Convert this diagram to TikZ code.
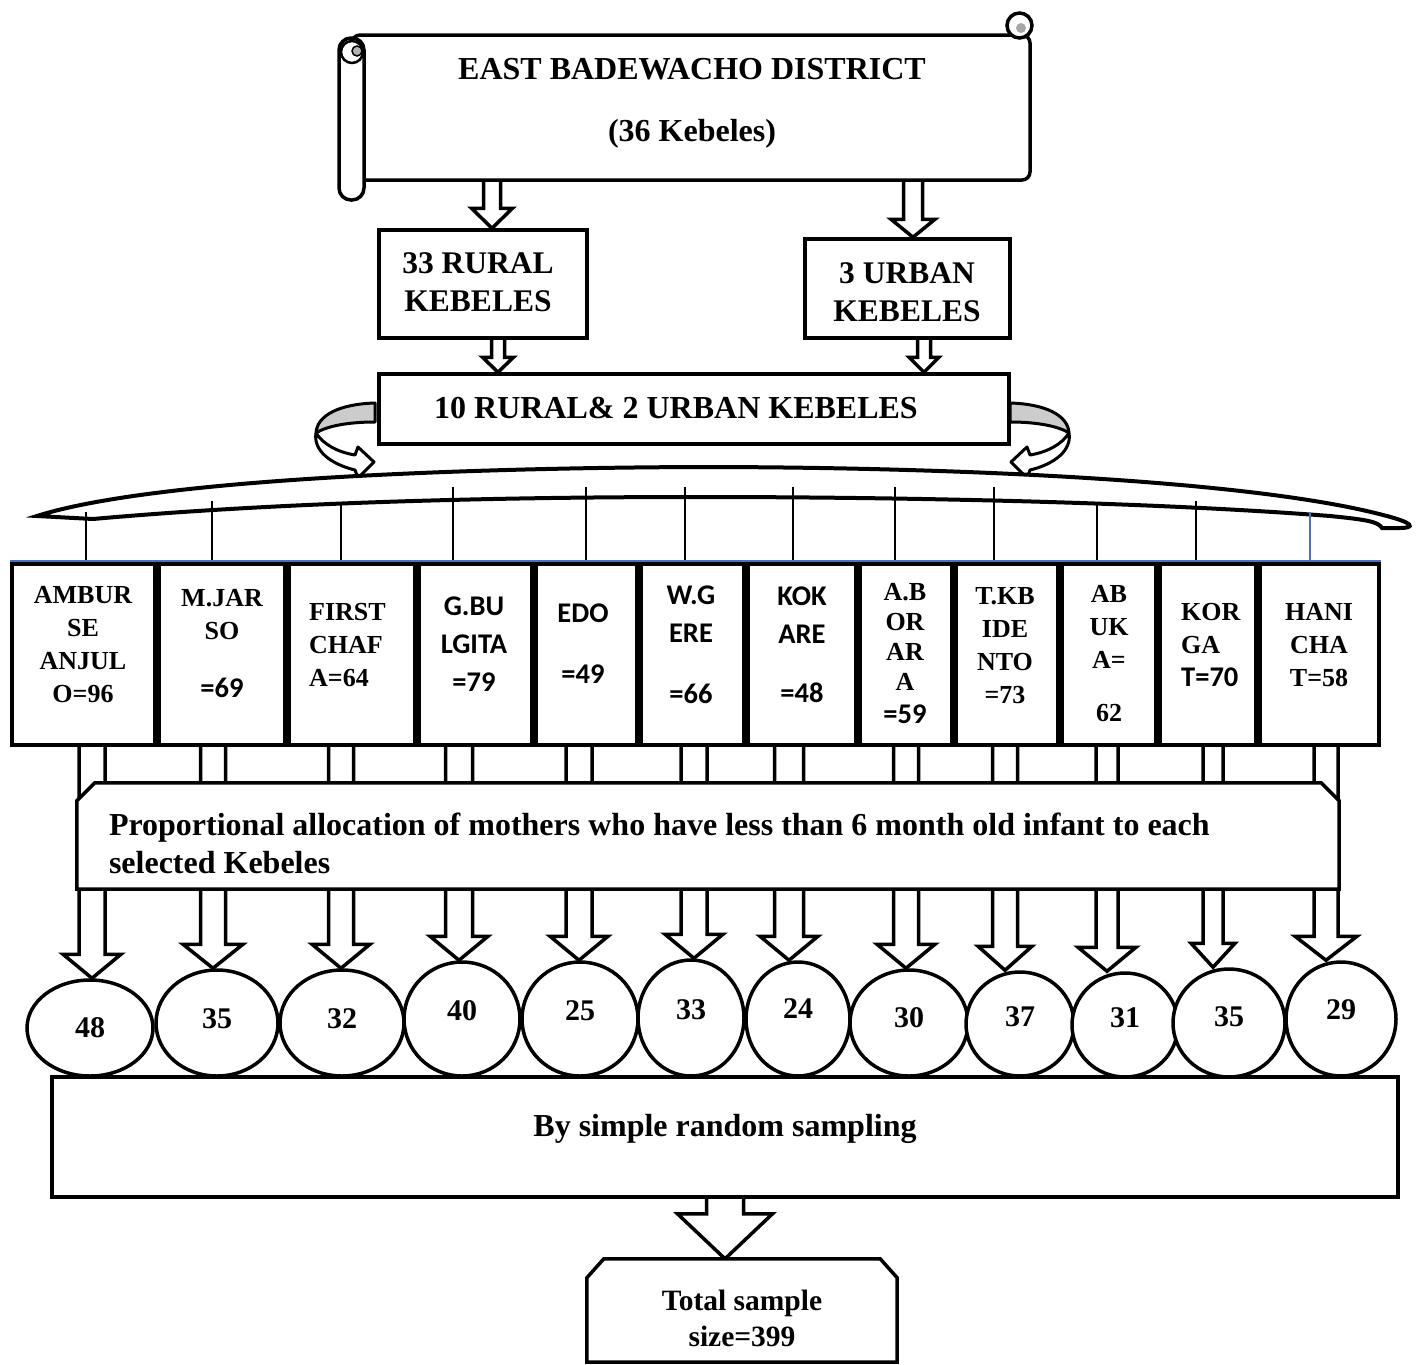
\documentclass[tikz,border=0pt]{standalone}
\usepackage{fontspec}
\setmainfont{Liberation Serif}
\newfontfamily\calfont{Carlito}
\usetikzlibrary{calc,backgrounds,shapes.geometric}

\definecolor{wordblue}{RGB}{68,114,196}

\newcommand{\headfont}{\fontsize{32}{38}\selectfont\bfseries}
\newcommand{\kebfont}{\fontsize{26}{33}\selectfont\bfseries}
\newcommand{\calbf}{\calfont\fontsize{28.5}{38}\selectfont\bfseries}
\newcommand{\numfont}{\fontsize{30}{36}\selectfont\bfseries}

\tikzset{
  thickbox/.style={draw, line width=3.5pt, fill=white, inner sep=0pt},
  kbox/.style={thickbox, minimum height=181pt},
  ktext/.style={align=center, inner sep=0pt, font=\kebfont},
  ctext/.style={align=center, inner sep=0pt, font=\calbf},
  oval/.style={draw, ellipse, line width=3.5pt, fill=white, inner sep=0pt},
  numtext/.style={inner sep=0pt, font=\numfont},
  blockline/.style={draw, line width=3.5pt, fill=white, line join=miter},
  stemline/.style={line width=1.3pt},
  curlband/.style={line width=3pt, line join=round},
  bandshape/.style={draw, line width=4pt, fill=white},
}

% hollow block arrow: from, to, half shaft, half head, head length
\newcommand{\blockarr}[5]{%
  \path[blockline] let \p1=(#1), \p2=(#2) in
    (\x2-#3,\y1) -- (\x2-#3,\y2+#5) -- (\x2-#4,\y2+#5) -- (\x2,\y2)
    -- (\x2+#4,\y2+#5) -- (\x2+#3,\y2+#5) -- (\x2+#3,\y1);}

% curled arrow on the right of the selection box
\newcommand{\sidecurl}{%
  \draw[curlband, fill=black!20] (1010,403) .. controls (1045,404) and (1068,415) .. (1069,433)
    .. controls (1060,427) and (1040,422) .. (1010,422) -- cycle;
  \draw[curlband, fill=white] (1069,433) .. controls (1072,450) and (1055,464) .. (1030,470)
    -- (1027,478) -- (1011,462) -- (1027,447) -- (1030,455)
    .. controls (1048,452) and (1062,444) .. (1069,433);}

\begin{document}
\begin{tikzpicture}[x=1pt,y=-1pt]
  \useasboundingbox (0,0) rectangle (1424,1365);

  % district scroll
  \node[thickbox, rounded corners=8pt, minimum width=678pt, minimum height=145pt] (district) at (691,107.5) {};
  \draw[thickbox, rounded corners=12pt] (339,38) rectangle (364,200);
  \draw[line width=2.5pt] (352,52) circle (11);
  \draw[line width=1.5pt, fill=black!30] (357,51) circle (5);
  \draw[thickbox] (1019.5,25.5) circle (12.5);
  \fill[black!35] (1021,28) circle (5);
  \node[align=center, inner sep=0pt, font=\fontsize{32}{62}\selectfont\bfseries] (title) at (692,103)
    {EAST BADEWACHO DISTRICT\\(36 Kebeles)};

  \node[thickbox, minimum width=208pt, minimum height=108pt] (rural) at (483,284) {};
  \node[align=center, inner sep=0pt, font=\fontsize{31.5}{38}\selectfont\bfseries] at (478,282) {33 RURAL\\KEBELES};
  \node[thickbox, minimum width=205pt, minimum height=99pt] (urban) at (907.5,288.5) {};
  \node[align=center, inner sep=0pt, font=\fontsize{31.5}{38}\selectfont\bfseries] at (907,292) {3 URBAN\\KEBELES};

  \node[thickbox, minimum width=630pt, minimum height=70pt] (ten) at (694,409) {};
  \node[inner sep=0pt, font=\headfont] at (676,408) {10 RURAL\& 2 URBAN KEBELES};

  \sidecurl
  \begin{scope}[xshift=1385pt, xscale=-1]
    \sidecurl
  \end{scope}

  % the long band
  \draw[bandshape] (37,516) .. controls (150,480) and (450,468) .. (698,467)
    .. controls (950,467) and (1250,480) .. (1383,515)
    .. controls (1415,523) and (1415,528) .. (1400,528) -- (1382,528)
    .. controls (1378,522) and (1370,520) .. (1330,516)
    .. controls (1150,502) and (900,497) .. (698,497)
    .. controls (450,497) and (250,505) .. (93,519) -- cycle;

  % selected kebeles
  \foreach \cx/\w [count=\i] in {83.5/143, 222/126, 352/126, 475.5/113, 586.5/101, 692.5/103,
      802/108, 906/92, 1007/102, 1109/94, 1208/96, 1319.5/119}
    \node[kbox, minimum width=\w*1pt] (k\i) at (\cx,654.5) {};

  \foreach \lx/\ly [count=\i] in {86/512, 212/501, 341/505, 453/487, 586/487, 685/487,
      793/487, 895/487, 994/487, 1097/505, 1196/501}
    \draw[stemline] (\lx,\ly) -- (\lx,0 |- k\i.north);
  \draw[stemline, wordblue] (1310,512) -- (1310,0 |- k12.north);
  \draw[wordblue, line width=1.8pt] ([yshift=1.5pt]k1.north west) -- ([yshift=1.5pt]k12.north east);

  \node[ktext] (t1) at (83,645) {AMBUR\\SE\\ANJUL\\O=96};
  \node[ktext] (t2) at (222,644) {M.JAR\\SO\\[25pt]{\calbf =69}};
  \node[ktext, align=left, anchor=west] (t3) at (309,645.5) {FIRST\\CHAF\\A=64};
  \node[ctext] (t4) at (474,644.5) {G.BU\\LGITA\\=79};
  \node[ctext] (t5) at (583,643.5) {EDO\\[23pt]=49};
  \node[ctext] (t6) at (691,645) {W.G\\ERE\\[23pt]=66};
  \node[ctext] (t7) at (802,645) {KOK\\ARE\\[21pt]=48};
  \node[ktext, font=\fontsize{26}{30}\selectfont\bfseries] (t8) at (905,653.5) {A.B\\OR\\AR\\A\\[3pt]{\calbf =59}};
  \node[ktext] (t9) at (1005,645.5) {T.KB\\IDE\\NTO\\=73};
  \node[ktext] (t10) at (1109,653.5) {AB\\UK\\A=\\[20pt]62};
  \node[ktext, align=left, anchor=west] (t11) at (1181,644.5) {KOR\\GA\\{\calbf T=70}};
  \node[ktext] (t12) at (1319,645.5) {HANI\\CHA\\T=58};

  % allocation
  \node[minimum width=1262pt, minimum height=106pt, inner sep=0pt] (alloc) at (708,836) {};
  \draw[thickbox] (alloc.south west) -- ([yshift=-18pt]alloc.north west) -- ([xshift=18pt]alloc.north west)
    -- ([xshift=-18pt]alloc.north east) -- ([yshift=-18pt]alloc.north east) -- (alloc.south east) -- cycle;
  \node[anchor=west, align=left, inner sep=0pt, font=\headfont] (alloctext) at ($(alloc.west)+(32,7)$)
    {Proportional allocation of mothers who have less than 6 month old infant to each\\selected Kebeles};

  % sample per kebele
  \foreach \cx/\cy/\w/\h/\n/\ty [count=\i] in {90/1028/126/96/48/1028, 217/1023/122/106/35/1019,
      342/1023/124/106/32/1019, 462/1019/116/114/40/1011, 580/1019/116/114/25/1011,
      691/1018/106/116/33/1010, 798/1019/104/114/24/1009, 909/1023/118/106/30/1018,
      1020/1024/108/104/37/1017, 1125/1025/106/104/31/1018, 1229/1023/112/108/35/1017,
      1341/1019/110/114/29/1010}
  {
    \node[oval, minimum width=\w*1pt, minimum height=\h*1pt] (e\i) at (\cx,\cy) {};
    \node[numtext] (n\i) at (\cx,\ty) {\n};
  }

  \node[thickbox, minimum width=1346pt, minimum height=120pt] (sampling) at (725,1137) {};
  \node[inner sep=0pt, font=\headfont] at (725,1129) {By simple random sampling};

  \node[minimum width=310pt, minimum height=103pt, inner sep=0pt] (total) at (742,1310.5) {};
  \draw[thickbox] (total.south west) -- ([yshift=-19pt]total.north west) -- ([xshift=17pt]total.north west)
    -- ([xshift=-17pt]total.north east) -- ([yshift=-19pt]total.north east) -- (total.south east) -- cycle;
  \node[align=center, inner sep=0pt, font=\fontsize{29.5}{36}\selectfont\bfseries] at (742,1318) {Total sample\\size=399};

  % block arrows behind
  \begin{scope}[on background layer]
    \blockarr{492,0 |- district.south}{492,0 |- rural.north}{8.5pt}{20.5pt}{20pt}
    \blockarr{913,0 |- district.south}{913,0 |- urban.north}{9.5pt}{22pt}{18pt}
    \blockarr{498,0 |- rural.south}{498,0 |- ten.north}{6.5pt}{15.5pt}{15pt}
    \blockarr{924,0 |- urban.south}{924,0 |- ten.north}{6.5pt}{15pt}{15pt}
    \foreach \ax/\sh/\hh [count=\i] in {92/13pt/29pt, 213/12.5pt/30pt, 341/12.5pt/29pt, 459/13.5pt/29pt,
        579/13pt/29pt, 694/13pt/29pt, 789/14.5pt/29pt, 906/12.5pt/29pt, 1005/12.5pt/27pt,
        1107/11pt/29pt, 1213/10pt/22pt, 1326/12pt/31pt}
    {
      \blockarr{\ax,0 |- k\i.south}{\ax,0 |- e\i.north}{\sh}{\hh}{24pt}
    }
    \blockarr{sampling.south}{725,0 |- total.north}{18.5pt}{47.5pt}{45pt}
  \end{scope}
\end{tikzpicture}
\end{document}
